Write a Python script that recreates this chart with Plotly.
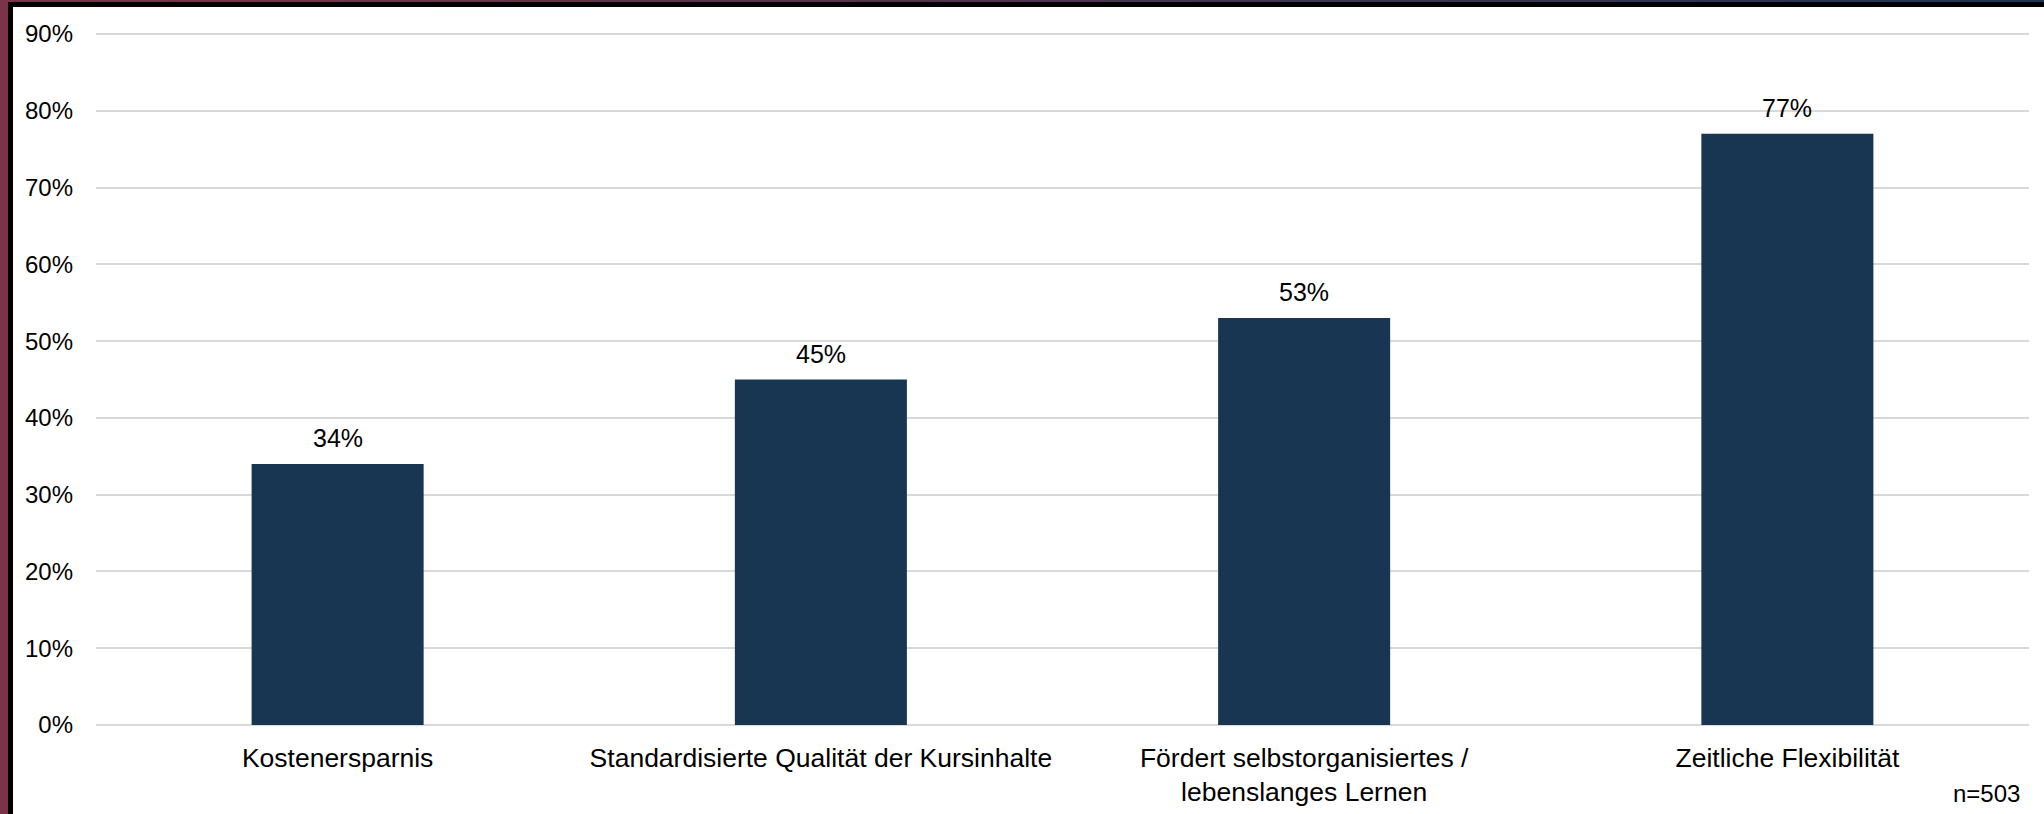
import plotly.graph_objects as go

categories = ["Kostenersparnis", "Standardisierte Qualität der Kursinhalte",
              "Fördert selbstorganisiertes /<br>lebenslanges Lernen", "Zeitliche Flexibilität"]
values = [34, 45, 53, 77]
labels = ["34%", "45%", "53%", "77%"]
tick_vals = [0, 10, 20, 30, 40, 50, 60, 70, 80, 90]
tick_text = ["0%", "10%", "20%", "30%", "40%", "50%", "60%", "70%", "80%", "90%"]
note = "n=503"

W, H = 2044, 814
ML, MR, MT, MB = 96, 15, 31, 89
PW, PH = W - ML - MR, H - MT - MB

def px2x(px):
    return (px - ML) / PW

def px2y(py):
    return (H - MB - py) / PH

FONT = "Liberation Sans, Arial, sans-serif"
BAR = "#183652"
GRID = "#d9d9d9"

fig = go.Figure(go.Bar(x=categories, y=values, marker=dict(color=BAR, line=dict(width=0)),
                       width=0.356, hoverinfo="skip"))

annotations = []
for c, v, t in zip(categories, values, labels):
    annotations.append(dict(x=c, y=v, xref="x", yref="y", text=t, showarrow=False,
                            yanchor="bottom", yshift=10, font=dict(size=25, color="#000", family=FONT)))
annotations.append(dict(x=px2x(2022), y=px2y(793), xref="paper", yref="paper", text=note,
                        showarrow=False, xanchor="right", yanchor="middle",
                        font=dict(size=24, color="#000", family=FONT)))

shapes = []
# left border: maroon then black
shapes.append(dict(type="rect", xref="paper", yref="paper", x0=px2x(0), x1=px2x(8),
                   y0=px2y(H), y1=px2y(0), fillcolor="#7a344a", line=dict(width=0), layer="above"))
shapes.append(dict(type="rect", xref="paper", yref="paper", x0=px2x(8), x1=px2x(13),
                   y0=px2y(H), y1=px2y(2), fillcolor="#000000", line=dict(width=0), layer="above"))
# top border: black band with gradient strip above
shapes.append(dict(type="rect", xref="paper", yref="paper", x0=px2x(8), x1=px2x(W),
                   y0=px2y(7), y1=px2y(2), fillcolor="#000000", line=dict(width=0), layer="above"))
nseg = 24
c0 = (122, 52, 74)
c1 = (31, 53, 82)
for i in range(nseg):
    f = i / (nseg - 1)
    col = "rgb(%d,%d,%d)" % tuple(round(a + (b - a) * f) for a, b in zip(c0, c1))
    shapes.append(dict(type="rect", xref="paper", yref="paper",
                       x0=px2x(W * i / nseg), x1=px2x(W * (i + 1) / nseg + 1),
                       y0=px2y(2), y1=px2y(0), fillcolor=col, line=dict(width=0), layer="above"))

fig.update_layout(
    width=W, height=H,
    margin=dict(l=ML, r=MR, t=MT, b=MB, pad=0, autoexpand=False),
    paper_bgcolor="white", plot_bgcolor="white",
    showlegend=False,
    font=dict(family=FONT, size=24, color="#000"),
    bargap=0.644,
    annotations=annotations,
    shapes=shapes,
    xaxis=dict(showgrid=False, showline=False, zeroline=False, ticks="", automargin=False,
               tickfont=dict(size=26.5, color="#000", family=FONT), ticklabelstandoff=14,
               fixedrange=True),
    yaxis=dict(range=[0, 90.4], tickvals=tick_vals, ticktext=tick_text,
               showgrid=True, gridcolor=GRID, gridwidth=2, automargin=False,
               zeroline=True, zerolinecolor=GRID, zerolinewidth=2, showline=False, ticks="",
               tickfont=dict(size=24, color="#000", family=FONT), ticklabelstandoff=22,
               fixedrange=True),
)

fig.write_html("out.html", config={"displayModeBar": False},
               post_script="document.body.style.margin='0';document.body.style.padding='0';"
                           "document.body.style.overflow='hidden';")
